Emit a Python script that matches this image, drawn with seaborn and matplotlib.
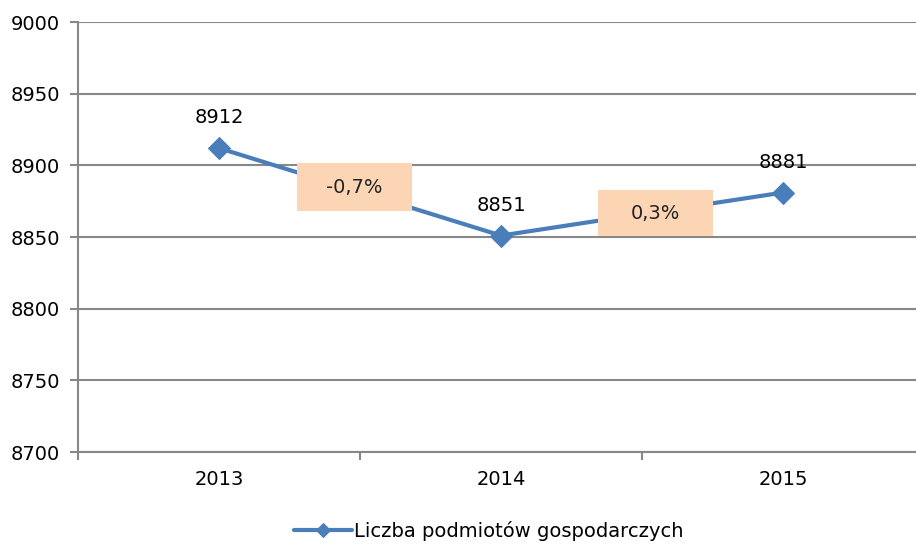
import matplotlib
matplotlib.use("Agg")
import matplotlib.pyplot as plt
from matplotlib.patches import Rectangle
import pandas as pd
import seaborn as sns

years = ["2013", "2014", "2015"]
values = [8912, 8851, 8881]
series_name = "Liczba podmiotów gospodarczych"
y_ticks = [8700, 8750, 8800, 8850, 8900, 8950, 9000]

df = pd.DataFrame({"pos": range(len(years)), "value": values, "series": series_name})

sns.set_theme(style="white")
plt.rcParams["font.family"] = ["DejaVu Sans"]
plt.rcParams["text.color"] = "black"

LINE = "#4A7EBB"
GRID = "#888888"
BOX = "#FCD5B4"
FS = 14

fig = plt.figure(figsize=(9.16, 5.44), dpi=100)
ax = fig.add_axes([78 / 916, 92 / 544, 846 / 916, 430 / 544])

sns.lineplot(data=df, x="pos", y="value", hue="series", palette=[LINE],
             marker="D", markersize=11, markeredgecolor=LINE, linewidth=3,
             ax=ax, zorder=3)

ax.set_xlim(-0.5, len(years) - 0.5)
ax.set_ylim(y_ticks[0], y_ticks[-1])

# y axis: gridlines at every tick, outward tick marks
ax.set_yticks(y_ticks)
ax.set_yticklabels([str(t) for t in y_ticks], fontsize=FS, color="black")
ax.yaxis.grid(True, color=GRID, linewidth=1.5)
ax.tick_params(axis="y", which="major", left=True, length=6, width=1.5,
               color=GRID, direction="out", pad=7)

# x axis: tick marks between categories, labels at category centers
ax.set_xticks([i - 0.5 for i in range(len(years) + 1)])
ax.set_xticklabels([])
ax.set_xticks(range(len(years)), minor=True)
ax.set_xticklabels(years, minor=True, fontsize=FS, color="black")
ax.tick_params(axis="x", which="major", bottom=True, length=6, width=1.5,
               color=GRID, direction="out")
ax.tick_params(axis="x", which="minor", bottom=False, length=0, pad=13)
ax.set_xlabel("")
ax.set_ylabel("")

for side in ["top", "right"]:
    ax.spines[side].set_visible(False)
for side in ["left", "bottom"]:
    ax.spines[side].set_color(GRID)
    ax.spines[side].set_linewidth(1.5)

# value labels above the points
for i, v in enumerate(values):
    ax.annotate(str(v), (i, v), xytext=(0, 22), textcoords="offset points",
                ha="center", va="center", fontsize=FS, color="black", zorder=5)

# year-on-year change boxes
box_specs = [
    (0.277, 8868.0, 0.408, 33.4),
    (1.344, 8850.6, 0.408, 32.0),
]
for k, (bx, by, bw, bh) in enumerate(box_specs):
    change = (values[k + 1] - values[k]) / values[k] * 100
    label = f"{change:.1f}%".replace(".", ",")
    ax.add_patch(Rectangle((bx, by), bw, bh, facecolor=BOX, edgecolor="none",
                           zorder=4))
    ax.text(bx + bw / 2, by + bh / 2, label, ha="center", va="center",
            fontsize=FS, color="#222222", zorder=5)

leg = ax.legend(loc="center", bbox_to_anchor=(489 / 916, 13 / 544),
                bbox_transform=fig.transFigure, frameon=False, fontsize=FS,
                handlelength=3.0, handletextpad=0.1, labelcolor="black")
for h in leg.legend_handles:
    h.set_markersize(7)

fig.savefig("out.png", dpi=100)
